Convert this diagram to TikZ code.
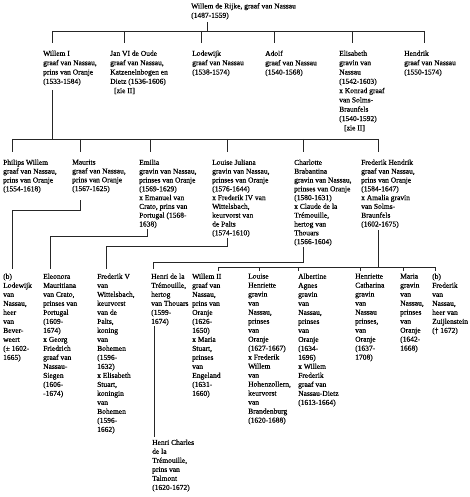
\documentclass[tikz,border=0pt]{standalone}
\usepackage{fontspec}
\setmainfont{Liberation Serif}[FakeBold=0.5]
\begin{document}
\begin{tikzpicture}[x=1pt,y=-1pt,
  txt/.style={anchor=north west, inner sep=0pt, align=left, font=\fontsize{7.5}{9.3}\selectfont},
  txtc/.style={anchor=north west, inner sep=0pt, align=left, font=\fontsize{7.5}{8.8}\selectfont},
  txtb/.style={anchor=north west, inner sep=0pt, align=left, font=\fontsize{7.5}{9}\selectfont},
  ln/.style={line width=0.6pt, draw=black!85}]
\useasboundingbox (0,0) rectangle (470,497);
% generation 0
\node[txt] (root) at (191,3) {Willem de Rijke, graaf van Nassau\\(1487-1559)};
% generation 1
\node[txt] (w1) at (43,50.5) {Willem I\\graaf van Nassau,\\prins van Oranje\\(1533-1584)};
\node[txt] (jan) at (110,50.5) {Jan VI de Oude\\graaf van Nassau,\\Katzenelnbogen en\\Dietz (1536-1606)\\\hspace*{4pt}{[zie II]}};
\node[txt] (lod) at (192,50.5) {Lodewijk\\graaf van Nassau\\(1538-1574)};
\node[txt] (ado) at (265,50.5) {Adolf\\graaf van Nassau\\(1540-1568)};
\node[txt] (eli) at (339,50.5) {Elisabeth\\gravin van\\Nassau\\(1542-1603)\\x Konrad graaf\\van Solms-\\Braunfels\\(1540-1592)\\\hspace*{5pt}{[zie II]}};
\node[txt] (hen) at (404,50.5) {Hendrik\\graaf van Nassau\\(1550-1574)};
% generation 2
\node[txtc] (ph) at (3,159.5) {Philips Willem\\graaf van Nassau,\\prins van Oranje\\(1554-1618)};
\node[txtc] (mau) at (72,159.5) {Maurits\\graaf van Nassau,\\prins van Oranje\\(1567-1625)};
\node[txtc] (emi) at (139,159.5) {Emilia\\gravin van Nassau,\\prinses van Oranje\\(1569-1629)\\x Emanuel van\\Crato, prins van\\Portugal (1568-\\1638)};
\node[txtc] (lj) at (212,159.5) {Louise Juliana\\gravin van Nassau,\\prinses van Oranje\\(1576-1644)\\x Frederik IV van\\Wittelsbach,\\keurvorst van\\de Palts\\(1574-1610)};
\node[txtc] (cha) at (294,159.5) {Charlotte\\Brabantina\\gravin van Nassau,\\prinses van Oranje\\(1580-1631)\\x Claude de la\\Trémouille,\\hertog van\\Thouars\\(1566-1604)};
\node[txtc] (fh) at (361,159.5) {Frederik Hendrik\\graaf van Nassau,\\prins van Oranje\\(1584-1647)\\x Amalia gravin\\van Solms-\\Braunfels\\(1602-1675)};
% generation 3
\node[txtb] (lb) at (3,273.5) {(b)\\Lodewijk\\van\\Nassau,\\heer\\van\\Bever-\\weert\\(± 1602-\\1665)};
\node[txtb] (ele) at (43,273.5) {Eleonora\\Mauritiana\\van Crato,\\prinses van\\Portugal\\(1609-\\1674)\\x Georg\\Friedrich\\graaf van\\Nassau-\\Siegen\\(1606-\\-1674)};
\node[txtb] (f5) at (97,273.5) {Frederik V\\van\\Wittelsbach,\\keurvorst\\van de\\Palts,\\koning\\van\\Bohemen\\(1596-\\1632)\\x Elisabeth\\Stuart,\\koningin\\van\\Bohemen\\(1596-\\1662)};
\node[txtb] (htr) at (151,273.5) {Henri de la\\Trémouille,\\hertog\\van Thouars\\(1599-\\1674)};
\node[txtb] (w2) at (192,273.5) {Willem II\\graaf van\\Nassau,\\prins van\\Oranje\\(1626-\\1650)\\x Maria\\Stuart,\\prinses\\van\\Engeland\\(1631-\\1660)};
\node[txtb] (lh) at (248,273.5) {Louise\\Henriette\\gravin\\van\\Nassau,\\prinses\\van\\Oranje\\(1627-1667)\\x Frederik\\Willem\\van\\Hohenzollern,\\keurvorst\\van\\Brandenburg\\(1620-1688)};
\node[txtb] (aa) at (298,273.5) {Albertine\\Agnes\\gravin\\van\\Nassau,\\prinses\\van\\Oranje\\(1634-\\1696)\\x Willem\\Frederik\\graaf van\\Nassau-Dietz\\(1613-1664)};
\node[txtb] (hc) at (355,273.5) {Henriette\\Catharina\\gravin\\van\\Nassau\\prinses,\\van\\Oranje\\(1637-\\1708)};
\node[txtb] (mar) at (400,273.5) {Maria\\gravin\\van\\Nassau,\\prinses\\van\\Oranje\\(1642-\\1668)};
\node[txtb] (fb) at (432,273.5) {(b)\\Frederik\\van\\Nassau,\\heer van\\Zuijlenstein\\(† 1672)};
% generation 4
\node[txtb] (hch) at (152,439.5) {Henri Charles\\de la\\Trémouille,\\prins van\\Talmont\\(1620-1672)};

% junction coordinates
\coordinate (r0) at (207,22);
\coordinate (r1) at (207,31);
\coordinate (b1l) at (52,31);
\coordinate (b1r) at (424,31);
\coordinate (w1a) at (52,90);
\coordinate (b2l) at (12,139);
\coordinate (b2r) at (378,139);
\coordinate (w1b) at (52,139);

% connectors
\draw[ln] (r0) -- (r1);
\draw[ln] (b1l) -- (b1r);
\foreach \x in {52,124,201,274,352,424}
  \draw[ln] (\x,31) -- (\x,43);
\draw[ln] (w1a) -- (w1b);
\draw[ln] (b2l) -- (b2r);
\foreach \x in {12,80,150,227,303,378}
  \draw[ln] (\x,139) -- (\x,152);
% Maurits -> Lodewijk (b)
\draw[ln] (80,200) -- (80,210) -- (12,210) -- (12,269);
% Emilia -> Eleonora
\draw[ln] (147,229) -- (147,236) -- (50,236) -- (50,269);
% Louise Juliana -> Frederik V
\draw[ln] (227,238) -- (227,246) -- (106,246) -- (106,269);
% Charlotte -> Henri de la Tremouille
\draw[ln] (303,247) -- (303,262) -- (153,262) -- (153,269);
% Henri -> Henri Charles
\draw[ln] (154,326) -- (154,437);
% Frederik Hendrik -> children
\draw[ln] (378,230) -- (378,267);
\draw[ln] (218,267) -- (435,267);
\foreach \x in {218,259,298,360,403,435}
  \draw[ln] (\x,267) -- (\x,271);
\end{tikzpicture}
\end{document}
